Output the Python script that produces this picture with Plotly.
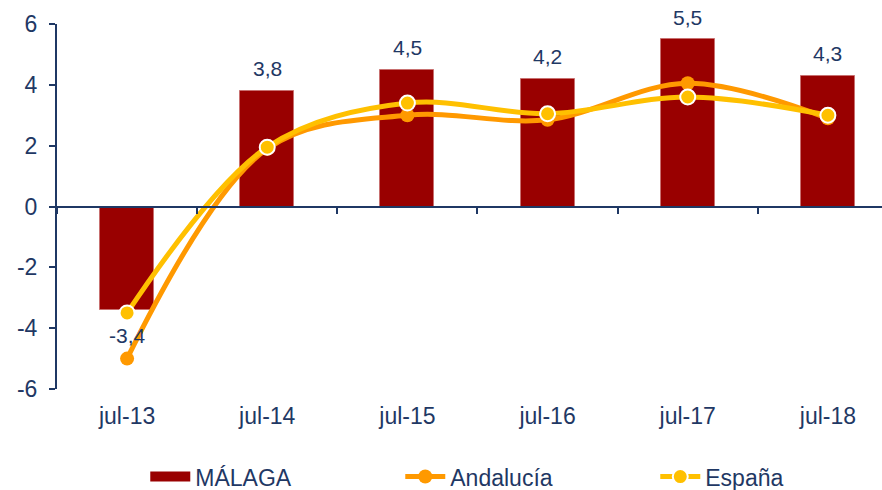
import plotly.graph_objects as go

categories = ["jul-13", "jul-14", "jul-15", "jul-16", "jul-17", "jul-18"]
malaga = [-3.4, 3.8, 4.5, 4.2, 5.5, 4.3]
andalucia = [-5.0, 1.9, 3.0, 2.85, 4.05, 2.9]
espana = [-3.5, 1.95, 3.4, 3.05, 3.6, 3.0]
y_tick_vals = [6, 4, 2, 0, -2, -4, -6]
y_tick_text = ["6", "4", "2", "0", "-2", "-4", "-6"]

NAVY = "#1F3864"
RED = "#990000"
ORANGE = "#FF9900"
GOLD = "#FFC000"
FONT = "Liberation Sans, Arial, sans-serif"

fig = go.Figure()

fig.add_trace(go.Bar(
    x=categories, y=malaga, name="MÁLAGA", showlegend=False,
    marker=dict(color=RED, line=dict(color="#C87070", width=1)),
    width=0.385, xaxis="x", yaxis="y", hoverinfo="skip",
))
# legend entry for the bars (wide rectangle)
fig.add_trace(go.Scatter(
    x=[None], y=[None], name="MÁLAGA", mode="lines",
    line=dict(color=RED, width=15), xaxis="x2", yaxis="y",
))
fig.add_trace(go.Scatter(
    x=categories, y=andalucia, name="Andalucía", mode="lines+markers",
    line=dict(color=ORANGE, width=5, shape="spline", smoothing=1),
    marker=dict(color=ORANGE, size=14, line=dict(color=ORANGE, width=0)),
    xaxis="x2", yaxis="y",
))
fig.add_trace(go.Scatter(
    x=categories, y=espana, name="España", mode="lines+markers",
    line=dict(color=GOLD, width=5, shape="spline", smoothing=1),
    marker=dict(color=GOLD, size=15, line=dict(color="white", width=2)),
    xaxis="x2", yaxis="y",
))

for c, v in zip(categories, malaga):
    fig.add_annotation(
        x=c, y=v, xref="x", yref="y",
        text=f"{v:.1f}".replace(".", ","),
        showarrow=False, yshift=22 if v >= 0 else -26,
        font=dict(size=21, color=NAVY, family=FONT),
    )

xr = [-0.5, 5.386]
fig.update_layout(
    width=882, height=490,
    margin=dict(l=57, r=0, t=24, b=101, autoexpand=False),
    paper_bgcolor="white", plot_bgcolor="white",
    font=dict(family=FONT, color=NAVY, size=23),
    bargap=0,
    xaxis=dict(
        type="category", categoryorder="array", categoryarray=categories,
        range=xr, anchor="free", position=0.5, automargin=False,
        showline=True, linecolor=NAVY, linewidth=2,
        ticks="outside", tickson="boundaries", ticklen=6, tickwidth=1.5,
        tickcolor=NAVY, showticklabels=False, showgrid=False, zeroline=False,
    ),
    xaxis2=dict(
        type="category", categoryorder="array", categoryarray=categories,
        range=xr, overlaying="x", anchor="y", side="bottom", automargin=False,
        showline=False, ticks="", showgrid=False, zeroline=False,
        tickfont=dict(size=23, color=NAVY, family=FONT),
        ticklabelstandoff=11,
    ),
    yaxis=dict(
        range=[-6, 6], tickvals=y_tick_vals, ticktext=y_tick_text,
        showline=True, linecolor=NAVY, linewidth=2, automargin=False,
        ticks="outside", ticklen=6, tickwidth=1.5, tickcolor=NAVY,
        showgrid=False, zeroline=False,
        tickfont=dict(size=23, color=NAVY, family=FONT),
        ticklabelstandoff=7,
    ),
    legend=dict(
        orientation="h", x=0.107, xanchor="left", y=-0.24, yanchor="middle",
        font=dict(size=23, color=NAVY, family=FONT),
        entrywidth=200, itemwidth=40, traceorder="normal",
    ),
)

fig.write_html(
    "out.html",
    config={"displayModeBar": False},
    post_script="document.body.style.margin='0';document.body.style.overflow='hidden';",
)
